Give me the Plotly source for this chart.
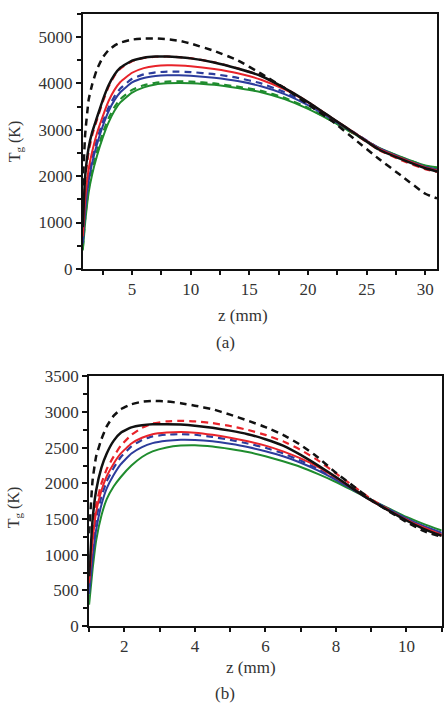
import plotly.graph_objects as go

# ---------------- data: panel (a) ----------------
z_a = [0.8, 1.0, 1.3, 1.6, 2.0, 2.5, 3.0, 3.5, 4.0, 5, 6, 7, 8, 9, 10, 12, 14, 16, 18, 20, 22, 24, 26, 28, 30, 31]
a_black_dash = [1800, 2900, 3650, 3980, 4300, 4560, 4720, 4815, 4880, 4945, 4970, 4970, 4955, 4920, 4860, 4700, 4500, 4210, 3900, 3550, 3200, 2790, 2380, 2000, 1620, 1520]
a_black = [900, 2000, 2620, 2950, 3260, 3640, 3960, 4190, 4340, 4490, 4555, 4578, 4580, 4565, 4540, 4450, 4320, 4160, 3900, 3600, 3260, 2920, 2580, 2360, 2170, 2100]
a_red_dash = [800, 1900, 2530, 2880, 3210, 3600, 3930, 4170, 4320, 4480, 4550, 4575, 4580, 4568, 4545, 4455, 4325, 4165, 3905, 3600, 3255, 2910, 2570, 2340, 2150, 2090]
a_red = [700, 1500, 2150, 2530, 2920, 3290, 3620, 3860, 4030, 4230, 4330, 4375, 4390, 4388, 4372, 4310, 4220, 4080, 3870, 3590, 3260, 2930, 2600, 2380, 2190, 2120]
a_blue_dash = [600, 1350, 2000, 2390, 2780, 3170, 3480, 3720, 3890, 4100, 4195, 4238, 4255, 4255, 4245, 4200, 4120, 4000, 3810, 3560, 3250, 2930, 2610, 2390, 2200, 2130]
a_blue = [550, 1250, 1900, 2290, 2680, 3080, 3400, 3640, 3810, 4020, 4115, 4158, 4175, 4175, 4165, 4120, 4050, 3940, 3770, 3530, 3230, 2920, 2610, 2390, 2200, 2140]
a_green_dash = [450, 1100, 1750, 2140, 2530, 2930, 3250, 3490, 3660, 3860, 3960, 4015, 4040, 4045, 4040, 4000, 3930, 3840, 3690, 3470, 3200, 2900, 2610, 2400, 2220, 2170]
a_green = [400, 1000, 1650, 2040, 2430, 2830, 3160, 3410, 3590, 3800, 3915, 3978, 4003, 4010, 4005, 3970, 3900, 3810, 3660, 3450, 3190, 2900, 2620, 2410, 2230, 2190]

# ---------------- data: panel (b) ----------------
z_b = [1.0, 1.1, 1.2, 1.35, 1.5, 1.7, 1.9, 2.2, 2.5, 2.8, 3.2, 3.6, 4.0, 4.5, 5.0, 5.5, 6.0, 6.5, 7.0, 7.5, 8.0, 8.5, 9.0, 9.5, 10.0, 10.5, 11.0]
b_black_dash = [1300, 2050, 2380, 2620, 2800, 2950, 3040, 3110, 3145, 3157, 3150, 3125, 3090, 3040, 2965, 2880, 2790, 2680, 2540, 2360, 2150, 1960, 1770, 1610, 1460, 1330, 1250]
b_black = [700, 1500, 1900, 2220, 2420, 2600, 2710, 2785, 2815, 2828, 2830, 2825, 2810, 2780, 2740, 2690, 2620, 2530, 2400, 2250, 2090, 1920, 1760, 1620, 1480, 1360, 1265]
b_red_dash = [650, 1300, 1700, 2000, 2200, 2380, 2530, 2680, 2780, 2840, 2870, 2877, 2870, 2845, 2805, 2750, 2680, 2590, 2470, 2320, 2140, 1960, 1780, 1630, 1490, 1370, 1270]
b_red = [600, 1200, 1600, 1900, 2100, 2280, 2420, 2560, 2640, 2690, 2713, 2720, 2712, 2682, 2640, 2590, 2530, 2450, 2350, 2230, 2080, 1920, 1760, 1620, 1490, 1380, 1280]
b_blue_dash = [550, 1100, 1500, 1820, 2030, 2220, 2370, 2520, 2610, 2660, 2684, 2690, 2682, 2652, 2610, 2560, 2500, 2420, 2320, 2200, 2060, 1910, 1760, 1630, 1500, 1390, 1295]
b_blue = [450, 950, 1350, 1700, 1930, 2120, 2270, 2420, 2510, 2565, 2598, 2613, 2610, 2590, 2555, 2510, 2450, 2380, 2290, 2180, 2050, 1910, 1770, 1640, 1510, 1400, 1310]
b_green = [300, 800, 1200, 1550, 1780, 1960, 2090, 2250, 2370, 2450, 2505, 2530, 2535, 2517, 2482, 2440, 2380, 2310, 2230, 2130, 2020, 1895, 1770, 1650, 1530, 1430, 1340]

BLACK = "#111111"
RED = "#e8232a"
BLUE = "#2c3c9c"
GREEN = "#1f8c2e"
DASH = "7px,5px"
FONT = "Liberation Serif, Times New Roman, serif"
TXT = "#333333"

fig = go.Figure()

def add(x, y, color, dash, width, xa, ya):
    fig.add_trace(go.Scatter(
        x=x, y=y, mode="lines", xaxis=xa, yaxis=ya,
        line=dict(color=color, width=width, dash=dash, shape="spline", smoothing=0.4),
        showlegend=False, hoverinfo="skip"))

# panel (a) traces (drawn back to front)
add(z_a, a_green, GREEN, "solid", 2, "x", "y")
add(z_a, a_green_dash, GREEN, DASH, 2.2, "x", "y")
add(z_a, a_blue, BLUE, "solid", 2, "x", "y")
add(z_a, a_blue_dash, BLUE, DASH, 2.2, "x", "y")
add(z_a, a_red, RED, "solid", 2, "x", "y")
add(z_a, a_red_dash, RED, DASH, 2.2, "x", "y")
add(z_a, a_black, BLACK, "solid", 2.5, "x", "y")
add(z_a, a_black_dash, BLACK, DASH, 2.5, "x", "y")

# panel (b) traces
add(z_b, b_green, GREEN, "solid", 2, "x2", "y2")
add(z_b, b_blue, BLUE, "solid", 2, "x2", "y2")
add(z_b, b_blue_dash, BLUE, DASH, 2.2, "x2", "y2")
add(z_b, b_red, RED, "solid", 2, "x2", "y2")
add(z_b, b_red_dash, RED, DASH, 2.2, "x2", "y2")
add(z_b, b_black, BLACK, "solid", 2.5, "x2", "y2")
add(z_b, b_black_dash, BLACK, DASH, 2.5, "x2", "y2")

W, H = 444, 712
def px(v):
    return v / W
def py(v):
    return 1 - v / H

tickfont = dict(family=FONT, size=17, color=TXT)

def xaxis(dom, rng, dtick, minor, anchor):
    return dict(domain=dom, range=rng, anchor=anchor, tick0=0, dtick=dtick,
                showgrid=False, zeroline=False, showline=True, linecolor="#111",
                linewidth=2, mirror=True, ticks="outside", ticklen=4, tickwidth=2,
                tickcolor="#111", tickfont=tickfont,
                minor=dict(dtick=minor, tick0=0, ticks="outside", ticklen=4,
                           tickwidth=2, tickcolor="#111", showgrid=False))

def yaxis(dom, rng, dtick, minor, anchor):
    return dict(domain=dom, range=rng, anchor=anchor, tick0=0, dtick=dtick,
                showgrid=False, zeroline=False, showline=True, linecolor="#111",
                linewidth=2, mirror=True, ticks="outside", ticklen=5, tickwidth=2,
                tickcolor="#111", tickfont=tickfont,
                minor=dict(dtick=minor, tick0=0, ticks="outside", ticklen=4,
                           tickwidth=2, tickcolor="#111", showgrid=False))

fig.update_layout(
    width=W, height=H, margin=dict(l=0, r=0, t=0, b=0),
    paper_bgcolor="white", plot_bgcolor="white",
    font=dict(family=FONT, color=TXT),
    xaxis=xaxis([px(83), px(438)], [0.8, 31], 5, 2.5, "y"),
    yaxis=yaxis([py(267), py(5)], [0, 5500], 1000, 500, "x"),
    xaxis2=xaxis([px(89.3), px(442.7)], [1, 11], 2, 1, "y2"),
    yaxis2=yaxis([py(634), py(377.5)], [0, 3500], 500, 250, "x2"),
)

ann_font = dict(family=FONT, size=17, color=TXT)
annotations = [
    dict(text="z (mm)", x=px(244), y=py(315), xref="paper", yref="paper",
         showarrow=False, font=ann_font, xanchor="center", yanchor="middle"),
    dict(text="(a)", x=px(226), y=py(343), xref="paper", yref="paper",
         showarrow=False, font=ann_font, xanchor="center", yanchor="middle"),
    dict(text="z (mm)", x=px(252), y=py(677), xref="paper", yref="paper",
         showarrow=False, font=ann_font, xanchor="center", yanchor="middle"),
    dict(text="(b)", x=px(226), y=py(703), xref="paper", yref="paper",
         showarrow=False, font=ann_font, xanchor="center", yanchor="middle"),
    dict(text="T<sub>g</sub> (K)", x=px(15), y=py(136), xref="paper", yref="paper",
         showarrow=False, font=dict(family=FONT, size=16, color=TXT), textangle=-90,
         xanchor="center", yanchor="middle"),
    dict(text="T<sub>g</sub> (K)", x=px(14), y=py(512), xref="paper", yref="paper",
         showarrow=False, font=dict(family=FONT, size=16, color=TXT), textangle=-90,
         xanchor="center", yanchor="middle"),
]
fig.update_layout(annotations=annotations)

fig.write_html("out.html")
